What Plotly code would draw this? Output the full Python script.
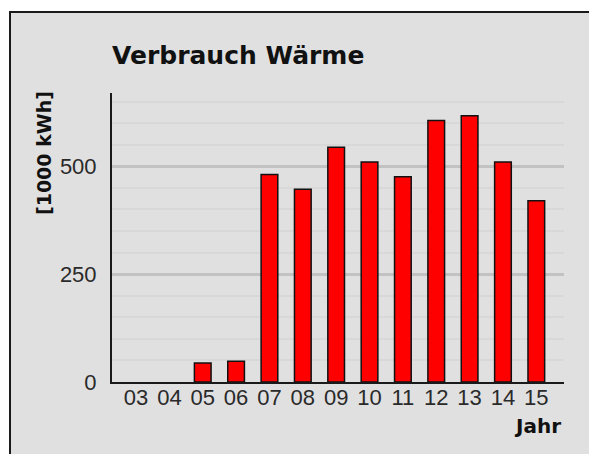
import plotly.graph_objects as go

jahre = ["03", "04", "05", "06", "07", "08", "09", "10", "11", "12", "13", "14", "15"]
verbrauch = [0, 0, 44, 48, 481, 447, 544, 510, 476, 606, 617, 510, 420]
y_ticks = [0, 250, 500]
title_text = "Verbrauch Wärme"
y_title = "[1000 kWh]"
x_title = "Jahr"

W, H = 597, 454
OFF = 8  # default page body margin
# plot area in page pixels: x 112..564, y 93..382
ML, MT = 112 - OFF, 93 - OFF
MR = W - (564 - OFF)
MB = H - (382 - OFF)
pw = W - ML - MR
ph = H - MT - MB

def px_x(p):
    return (p - OFF - ML) / pw

def px_y(p):
    return (H - MB - (p - OFF)) / ph

fig = go.Figure()
fig.add_trace(go.Bar(
    x=jahre, y=verbrauch, width=0.5,
    marker=dict(color="#ff0000",
                line=dict(color="#111111", width=[0 if v == 0 else 1.5 for v in verbrauch])),
))

fig.update_layout(
    width=W, height=H,
    margin=dict(l=ML, r=MR, t=MT, b=MB, pad=0, autoexpand=False),
    paper_bgcolor="white",
    plot_bgcolor="#f0f0f0",
    showlegend=False,
    font=dict(family="Liberation Sans, Arial, sans-serif", size=21, color="#2a2a2a"),
    title=dict(text=title_text, x=0, xref="paper", xanchor="left",
               y=1 - (55 - OFF) / H, yref="container", yanchor="middle", automargin=False,
               font=dict(family="DejaVu Sans, sans-serif", size=25, color="#111111", weight="bold")),
    shapes=[dict(type="rect", xref="paper", yref="paper",
                 x0=px_x(10), x1=px_x(640), y0=px_y(520), y1=px_y(12),
                 fillcolor="#e0e0e0", line=dict(color="#1a1a1a", width=2), layer="below")],
    annotations=[
        dict(text=y_title, xref="paper", yref="paper", x=px_x(44), y=px_y(153),
             xanchor="center", yanchor="middle", textangle=-90, showarrow=False,
             font=dict(family="DejaVu Sans, sans-serif", size=19, color="#111111", weight="bold")),
        dict(text=x_title, xref="paper", yref="paper", x=px_x(563), y=px_y(426),
             xanchor="right", yanchor="middle", showarrow=False,
             font=dict(family="DejaVu Sans, sans-serif", size=20, color="#111111", weight="bold")),
    ],
)

fig.update_xaxes(
    type="category", range=[-0.72, 12.83], automargin=False,
    showline=True, linecolor="#1a1a1a", linewidth=2,
    showgrid=False, ticks="", ticklabelstandoff=-5,
    tickfont=dict(size=22, color="#2a2a2a"), fixedrange=True,
)
fig.update_yaxes(
    range=[0, 670], tickvals=y_ticks, automargin=False,
    showline=True, linecolor="#1a1a1a", linewidth=2,
    showgrid=True, gridcolor="#c2c2c2", gridwidth=2.5,
    minor=dict(dtick=50, showgrid=True, gridcolor="#d8d8d8", gridwidth=1.5),
    ticks="outside", ticklen=9, tickcolor="rgba(0,0,0,0)",
    tickfont=dict(size=22, color="#2a2a2a"), zeroline=False, fixedrange=True,
)

fig.write_html("out.html")
